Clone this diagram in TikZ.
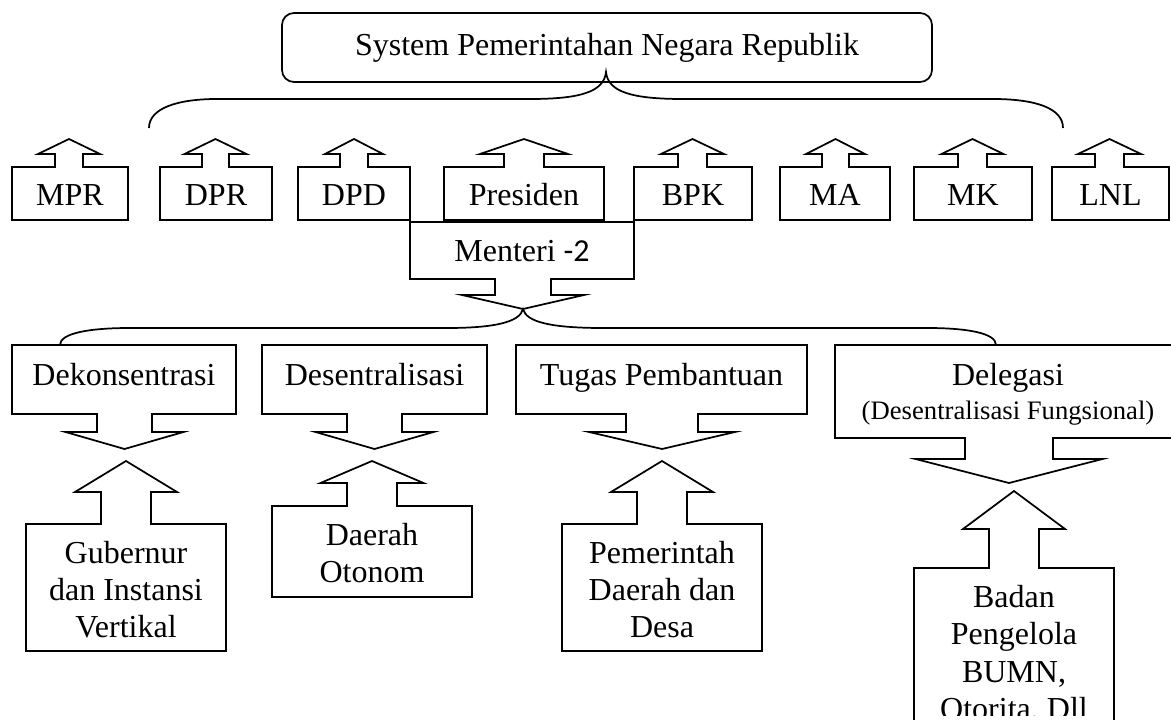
\documentclass[tikz,border=0pt]{standalone}
\usepackage{fontspec}
\setmainfont{Liberation Serif}
\newfontfamily\calib{Carlito}
\tikzset{
  shp/.style={draw=black, line width=1.3pt, line join=miter},
  brc/.style={draw=black, line width=1.3pt},
  lbl/.style={anchor=base, inner sep=0pt, font=\fontsize{24}{27.75}\selectfont},
  slbl/.style={anchor=base, inner sep=0pt, font=\fontsize{20}{24}\selectfont},
  topbox/.style={draw=black, line width=1.3pt, rounded corners=9pt, minimum width=487.5pt, minimum height=51.75pt, inner sep=0pt, font=\fontsize{24}{27.75}\selectfont},
}
% box with an arrow on top: left, right, top, bottom, stem half, head half, centre x, shoulder y, tip y
\newcommand\myupbox[9]{%
  \draw[shp] (#1,#4) -- (#1,#3) -- ({#7-#5},#3) -- ({#7-#5},#8) -- ({#7-#6},#8) -- (#7,#9)
    -- ({#7+#6},#8) -- ({#7+#5},#8) -- ({#7+#5},#3) -- (#2,#3) -- (#2,#4) -- cycle;}
% box with an arrow below
\newcommand\mydownbox[9]{%
  \draw[shp] (#1,#3) -- (#2,#3) -- (#2,#4) -- ({#7+#5},#4) -- ({#7+#5},#8) -- ({#7+#6},#8) -- (#7,#9)
    -- ({#7-#6},#8) -- ({#7-#5},#8) -- ({#7-#5},#4) -- (#1,#4) -- cycle;}
\begin{document}
\begin{tikzpicture}[x=0.75pt, y=-0.75pt]
\useasboundingbox (0,0) rectangle (1171,720);
\clip (0,0) rectangle (1171,720);
\fill[white] (0,0) rectangle (1171,720);

% top box
\node[topbox] (sys) at (607,47.5) {System Pemerintahan Negara Republik};

% top row
\myupbox{12}{128}{167}{220}{14}{31}{69}{154}{139}
\myupbox{160}{272}{167}{220}{13.5}{31}{215.5}{154}{139}
\myupbox{298}{410}{167}{220}{14}{29}{354}{154}{139}
\myupbox{444}{604}{167}{220}{20}{44}{524}{154}{139}
\myupbox{634}{752}{167}{220}{14.5}{31.5}{692.5}{154}{139}
\myupbox{780}{890}{167}{220}{13.5}{29.5}{835.5}{154}{139}
\myupbox{914}{1032}{167}{220}{14.5}{31}{972.5}{154}{139}
\myupbox{1052}{1169}{167}{220}{14.5}{31.5}{1109.5}{154}{139}

\node[lbl] (mpr) at (70,206) {MPR};
\node[lbl] (dpr) at (216,206) {DPR};
\node[lbl] (dpd) at (354,206) {DPD};
\node[lbl] (pres) at (524,206) {Presiden};
\node[lbl] (bpk) at (693,206) {BPK};
\node[lbl] (ma) at (835,206) {MA};
\node[lbl] (mk) at (973,206) {MK};
\node[lbl] (lnl) at (1110.5,206) {LNL};

% Menteri
\mydownbox{410}{634}{222}{279}{28}{61}{523}{295}{309}
\node[lbl] (menteri) at (522,262) {Menteri {\calib -2}};

% top brace
\coordinate (b1l) at (149,128);
\coordinate (b1c) at (606,72);
\coordinate (b1r) at (1063,128);
\draw[brc] (b1l) .. controls (149,108) and (178,99) .. (217,99) -- (530,99)
  .. controls (580,99) and (604,92) .. (b1c)
  .. controls (608,92) and (632,99) .. (683,99) -- (993,99)
  .. controls (1035,99) and (1063,108) .. (b1r);

% lower brace
\coordinate (b2l) at (60,345);
\coordinate (b2c) at (523,309);
\coordinate (b2r) at (996,345);
\draw[brc] (b2l) .. controls (60,333) and (90,328) .. (130,328) -- (447,328)
  .. controls (495,328) and (520,322) .. (b2c)
  .. controls (526,322) and (551,328) .. (603,328) -- (927,328)
  .. controls (967,328) and (996,333) .. (b2r);

% middle row
\mydownbox{12}{236}{345}{414}{27.5}{59}{124.5}{432}{449}
\mydownbox{262}{487}{345}{414}{27.5}{59}{374.5}{432}{449}
\mydownbox{516}{807}{345}{414}{36}{73}{662}{432}{449}
\mydownbox{835}{1183}{345}{438}{44}{93.5}{1009}{459}{483}

\node[lbl] (dek) at (124,385) {Dekonsentrasi};
\node[lbl] (des) at (374.5,385) {Desentralisasi};
\node[lbl] (tug) at (661.5,385) {Tugas Pembantuan};
\node[lbl] (del) at (1008,385) {Delegasi};
\node[slbl] (delf) at (1008,419) {(Desentralisasi Fungsional)};

% bottom row
\myupbox{26}{226}{524}{651}{25}{51}{126}{492}{461}
\myupbox{272}{472}{506}{597}{25}{51.5}{372}{483}{461}
\myupbox{562}{762}{524}{651}{25}{51}{662}{492}{461}
\myupbox{914}{1114}{568}{800}{25}{51}{1014}{529}{491}

\node[lbl] (gub1) at (126,563) {Gubernur};
\node[lbl] (gub2) at (126,600) {dan Instansi};
\node[lbl] (gub3) at (126,637) {Vertikal};
\node[lbl] (dae1) at (372,545) {Daerah};
\node[lbl] (dae2) at (372,582) {Otonom};
\node[lbl] (pem1) at (662,563) {Pemerintah};
\node[lbl] (pem2) at (662,600) {Daerah dan};
\node[lbl] (pem3) at (662,637) {Desa};
\node[lbl] (bad1) at (1014,607) {Badan};
\node[lbl] (bad2) at (1014,644) {Pengelola};
\node[lbl] (bad3) at (1014,682) {BUMN,};
\begin{scope}
\clip (916,560) rectangle (1112,715);
\node[lbl] (bad4) at (1014,719) {Otorita, Dll};
\end{scope}
\end{tikzpicture}
\end{document}
